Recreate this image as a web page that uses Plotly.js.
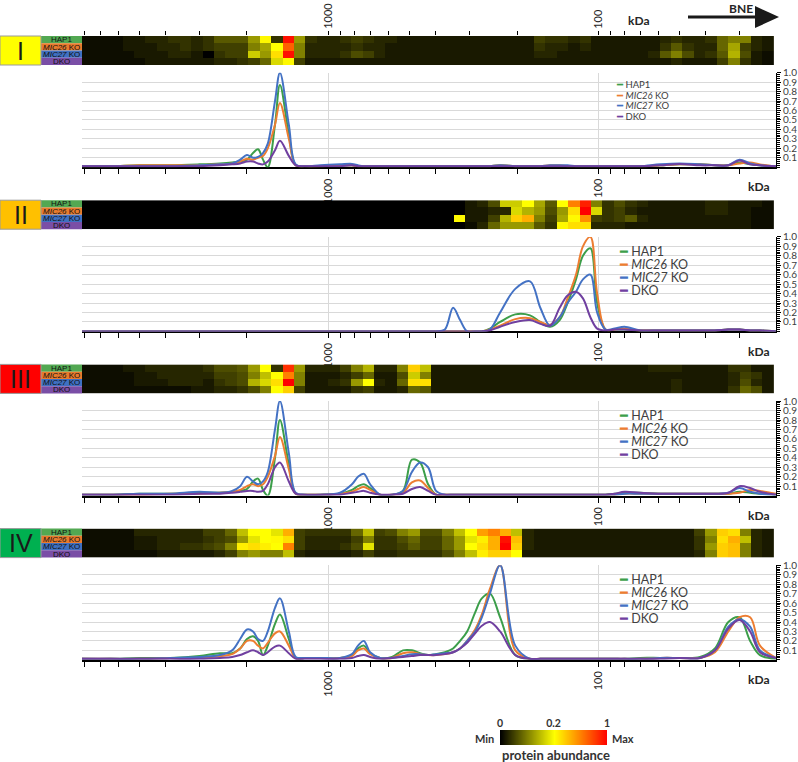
<!DOCTYPE html>
<html>
<head>
<meta charset="utf-8">
<script src="https://cdn.plot.ly/plotly-3.0.1.min.js"></script>
<style>
  body { margin: 0; background: #fff; }
  #chart { width: 798px; height: 762px; }
</style>
</head>
<body>
<div id="chart"></div>
<script>
// molecular weight of every profile point (kDa)
var kda = [8200, 6400, 5000, 3850, 3000, 2520, 2270, 2120, 2000, 1900,
           1820, 1745, 1675, 1575, 1510, 1400, 1320, 1220, 1070, 905,
           817, 776, 738, 700, 643, 581, 529, 490, 457, 427,
           399, 370, 345, 325, 306, 286, 270, 252, 231, 203,
           179, 164, 151, 139, 130, 121, 114, 107, 101, 94,
           87, 80, 70, 59, 50, 42, 37, 33, 30, 27.4,
           25.2, 22];

// kDa ticks
var majorTicks = [1000, 100];
var majorText = ['1000', '100'];
var minorTicks = [8000, 7000, 6000, 5000, 4000, 3000, 2000,
                  900, 800, 700, 600, 500, 400, 300, 200,
                  90, 80, 70, 60, 50, 40, 30];

var names = ['HAP1', '<i>MIC26</i> KO', '<i>MIC27</i> KO', 'DKO'];
var colors = ['#3c9e4a', '#ed7d31', '#4472c4', '#7040a0'];
var labelBg = ['#52a852', '#e87a2c', '#3f70c2', '#7a4ea6'];
var numerals = ['I', 'II', 'III', 'IV'];
var numeralBg = ['#ffff00', '#ffc000', '#ff0000', '#00b050'];

// ---------- heatmaps (61 gel slices, 0 = min, 1 = max) ----------
var hmI_hap1 = [.01,.01,.01,.01,.02,.02,.03,.03,.04,.04,
                .03,.04,.07,.07,.07,.12,.22,.04,.95,.12,
                .04,.03,.03,.04,.05,.04,.03,.03,.02,.02,
                .02,.02,.02,.02,.02,.02,.02,.02,.02,.02,
                .05,.04,.04,.03,.04,.02,.02,.02,.02,.02,
                .02,.03,.04,.03,.03,.04,.08,.1,.1,.03,
                .02];
var hmI_mic26 = [.01,.01,.01,.01,.02,.02,.02,.03,.03,.04,
                 .03,.04,.05,.05,.05,.1,.13,.2,.7,.1,
                 .03,.03,.03,.03,.04,.03,.03,.02,.02,.02,
                 .02,.02,.02,.02,.02,.02,.02,.02,.02,.02,
                 .04,.03,.03,.02,.03,.02,.02,.02,.02,.02,
                 .02,.04,.07,.04,.03,.03,.08,.13,.05,.03,
                 .02];
var hmI_mic27 = [.01,.01,.01,.01,.01,.02,.02,.02,.03,.03,
                 .02,0,.04,.05,.05,.16,.12,.3,.95,.1,
                 .03,.03,.03,.04,.06,.05,.03,.02,.02,.02,
                 .02,.02,.02,.02,.02,.02,.02,.02,.02,.02,
                 .03,.03,.02,.02,.02,.02,.02,.02,.02,.02,
                 .03,.07,.1,.06,.03,.04,.07,.14,.06,.02,
                 .01];
var hmI_dko = [.01,.01,.01,.01,.01,.01,.02,.02,.02,.02,
               .02,.02,.03,.03,.04,.05,.08,.17,.22,.05,
               .02,.02,.02,.02,.02,.02,.02,.02,.02,.02,
               .02,.02,.02,.02,.02,.02,.02,.02,.02,.02,
               .02,.02,.02,.02,.02,.02,.02,.02,.02,.02,
               .02,.02,.03,.02,.02,.02,.05,.1,.04,.02,
               .01];

var hmII_hap1 = [0,0,0,0,0,0,0,0,0,0,
                 0,0,0,0,0,0,0,0,0,0,
                 0,0,0,0,0,0,0,0,0,0,
                 0,0,0,0,.02,.03,.06,.16,.16,.2,
                 .13,.07,.2,.6,.9,.1,.04,.06,.04,.03,
                 .02,.02,.02,.02,.02,.03,.03,.02,.02,.02,
                 .01];
var hmII_mic26 = [0,0,0,0,0,0,0,0,0,0,
                  0,0,0,0,0,0,0,0,0,0,
                  0,0,0,0,0,0,0,0,0,0,
                  0,0,0,0,.02,.02,.03,.03,.17,.14,
                  .12,.06,.12,.3,1,.17,.04,.05,.03,.02,
                  .02,.02,.02,.02,.02,.03,.03,.02,.02,.01,
                  .01];
var hmII_mic27 = [0,0,0,0,0,0,0,0,0,0,
                  0,0,0,0,0,0,0,0,0,0,
                  0,0,0,0,0,0,0,0,0,0,
                  0,0,0,.22,.02,.02,.05,.14,.35,.45,
                  .1,.05,.13,.22,.55,.05,.04,.05,.07,.03,
                  .02,.02,.02,.02,.02,.02,.02,.02,.02,.01,
                  .01];
var hmII_dko = [0,0,0,0,0,0,0,0,0,0,
                0,0,0,0,0,0,0,0,0,0,
                0,0,0,0,0,0,0,0,0,0,
                0,0,0,0,.01,.03,.08,.12,.12,.12,
                .07,.04,.22,.3,.3,.03,.03,.03,.02,.02,
                .02,.02,.02,.02,.02,.02,.02,.02,.02,.01,
                .01];

var hmIII_hap1 = [.01,.01,.01,.01,.02,.02,.03,.03,.03,.03,
                  .03,.04,.06,.06,.07,.12,.2,.04,.85,.12,
                  .03,.03,.03,.05,.1,.14,.03,.03,.1,.35,
                  .15,.02,.02,.02,.02,.02,.02,.02,.02,.02,
                  .02,.02,.02,.02,.02,.02,.02,.02,.02,.02,
                  .03,.03,.03,.02,.02,.02,.02,.04,.04,.02,
                  .02];
var hmIII_mic26 = [.01,.01,.01,.01,.01,.02,.02,.03,.03,.03,
                   .03,.03,.05,.05,.06,.1,.15,.2,.6,.1,
                   .02,.02,.02,.03,.05,.08,.02,.02,.06,.16,
                   .1,.02,.02,.02,.02,.02,.02,.02,.02,.02,
                   .02,.02,.02,.02,.02,.02,.02,.02,.02,.02,
                   .02,.02,.02,.02,.02,.02,.02,.03,.05,.04,
                   .02];
var hmIII_mic27 = [.01,.01,.01,.01,.01,.02,.02,.02,.03,.03,
                   .03,.02,.04,.05,.06,.14,.17,.3,1,.1,
                   .02,.02,.03,.04,.12,.2,.03,.02,.08,.3,
                   .3,.02,.02,.02,.02,.02,.02,.02,.02,.02,
                   .02,.02,.02,.02,.02,.02,.02,.02,.02,.02,
                   .02,.02,.03,.02,.02,.02,.02,.03,.06,.03,
                   .02];
var hmIII_dko = [.01,.01,.01,.01,.01,.01,.01,.01,.01,.01,
                 .02,.02,.03,.03,.04,.06,.1,.2,.35,.05,
                 .02,.02,.02,.02,.04,.05,.02,.02,.03,.08,
                 .07,.02,.02,.02,.02,.02,.02,.02,.02,.02,
                 .02,.02,.02,.02,.02,.02,.02,.02,.02,.02,
                 .02,.02,.03,.02,.02,.02,.02,.04,.08,.06,
                 .02];

var hmIV_hap1 = [.01,.01,.01,.01,.01,.03,.03,.03,.03,.03,
                 .03,.05,.05,.08,.15,.2,.2,.18,.45,.05,
                 .04,.04,.04,.04,.08,.15,.05,.06,.1,.12,
                 .06,.06,.1,.15,.2,.5,.6,.45,.15,.03,
                 .02,.02,.02,.02,.02,.02,.02,.02,.02,.02,
                 .02,.02,.02,.02,.05,.12,.35,.3,.1,.03,
                 .02];
var hmIV_mic26 = [.01,.01,.01,.01,.01,.02,.02,.03,.03,.03,
                  .03,.04,.05,.06,.12,.18,.2,.22,.3,.05,
                  .03,.03,.03,.03,.05,.1,.04,.04,.06,.08,
                  .05,.05,.08,.12,.18,.25,.45,.95,.4,.03,
                  .02,.02,.02,.02,.02,.02,.02,.02,.02,.02,
                  .02,.02,.02,.02,.04,.1,.3,.45,.15,.03,
                  .02];
var hmIV_mic27 = [.01,.01,.01,.01,.01,.02,.02,.03,.03,.04,
                  .04,.05,.06,.1,.25,.3,.25,.2,.6,.05,
                  .03,.03,.03,.04,.06,.18,.04,.04,.05,.07,
                  .05,.05,.08,.12,.2,.3,.45,1,.35,.03,
                  .02,.02,.02,.02,.02,.02,.02,.02,.02,.02,
                  .02,.02,.02,.02,.04,.12,.35,.4,.1,.03,
                  .02];
var hmIV_dko = [.01,.01,.01,.01,.01,.01,.01,.02,.02,.02,
                .02,.02,.03,.05,.1,.12,.1,.1,.15,.03,
                .02,.02,.02,.02,.03,.05,.03,.03,.04,.04,
                .04,.04,.06,.1,.15,.25,.35,.35,.2,.02,
                .02,.02,.02,.02,.02,.02,.02,.02,.02,.02,
                .02,.02,.02,.02,.03,.1,.35,.4,.1,.03,
                .02];

// ---------- abundance profiles (y at every kda point) ----------
var lnI_hap1 = [.01,.01,.02,.02,.03,.04,.05,.06,.08,.15,
                .19,.08,0,.45,.87,.35,.02,.01,.01,.02,
                .02,.01,.01,.01,.01,.01,.01,.01,.01,.01,
                .01,.01,.01,.01,.01,.01,.01,.01,.02,.01,
                .01,.01,.01,.01,.01,.01,.01,.01,.01,.01,
                .01,.01,.01,.02,.03,.03,.02,.02,.05,.03,
                .02,.01];
var lnI_mic26 = [.01,.01,.02,.02,.02,.03,.04,.06,.09,.08,
                 .1,.12,.2,.45,.68,.3,.02,.01,.01,.02,
                 .02,.01,.01,.01,.01,.01,.01,.01,.01,.01,
                 .01,.01,.01,.01,.01,.01,.01,.01,.02,.01,
                 .01,.01,.02,.02,.01,.01,.01,.01,.01,.01,
                 .01,.01,.01,.02,.03,.03,.02,.02,.04,.05,
                 .03,.01];
var lnI_mic27 = [.01,.01,.01,.01,.02,.03,.04,.08,.13,.1,
                 .11,.15,.25,.7,1,.45,.03,.01,.02,.03,
                 .035,.02,.01,.01,.01,.01,.01,.01,.01,.01,
                 .01,.01,.01,.01,.01,.01,.01,.01,.02,.01,
                 .01,.01,.02,.02,.02,.01,.01,.01,.01,.01,
                 .01,.01,.01,.03,.04,.03,.02,.02,.08,.04,
                 .02,.01];
var lnI_dko = [.01,.01,.01,.01,.01,.02,.03,.04,.06,.06,
               .04,.03,.06,.18,.28,.12,.02,.01,.01,.01,
               .02,.01,.01,.01,.01,.01,.01,.01,.01,.01,
               .01,.01,.01,.01,.01,.01,.01,.01,.01,.01,
               .01,.01,.01,.01,.01,.01,.01,.01,.01,.01,
               .01,.01,.01,.02,.035,.02,.02,.02,.07,.03,
               .02,.01];

var lnII_hap1 = [0,0,0,0,0,0,0,0,0,0,
                 0,0,0,0,0,0,0,0,0,0,
                 0,0,0,0,0,0,0,0,0,0,
                 0,0,0,0,0,0,0,.03,.1,.18,
                 .17,.1,.05,.12,.3,.55,.8,.88,.3,.02,
                 .02,.02,.01,.01,.01,.01,.01,.02,.02,.01,
                 .01,0];
var lnII_mic26 = [0,0,0,0,0,0,0,0,0,0,
                  0,0,0,0,0,0,0,0,0,0,
                  0,0,0,0,0,0,0,0,0,0,
                  0,0,0,0,0,0,0,.02,.06,.13,
                  .14,.1,.07,.15,.35,.6,.9,1,.4,.02,
                  .02,.03,.01,.01,.01,.01,.01,.02,.02,.01,
                  .01,0];
var lnII_mic27 = [0,0,0,0,0,0,0,0,0,0,
                  0,0,0,0,0,0,0,0,0,0,
                  0,0,0,0,0,0,0,0,0,0,
                  0,.02,.25,.12,0,0,0,.02,.2,.45,
                  .53,.25,.06,.15,.3,.42,.55,.6,.2,.02,
                  .03,.05,.01,.01,.01,.01,.01,.02,.02,.01,
                  .01,0];
var lnII_dko = [0,0,0,0,0,0,0,0,0,0,
                0,0,0,0,0,0,0,0,0,0,
                0,0,0,0,0,0,0,0,0,0,
                0,0,0,0,0,0,0,.01,.05,.1,
                .12,.08,.06,.25,.38,.42,.35,.15,.03,.01,
                .02,.02,.01,.01,.01,.01,.01,.02,.02,.01,
                .01,0];

var lnIII_hap1 = [.01,.01,.02,.02,.03,.03,.04,.05,.07,.15,
                  .18,.06,0,.4,.8,.33,.02,.01,.01,.02,
                  .06,.1,.12,.08,.01,.01,.05,.38,.35,.12,
                  .01,.01,.01,.01,.01,.01,.01,.01,.01,.01,
                  .01,.01,.01,.01,.01,.01,.01,.01,.01,.01,
                  .02,.03,.03,.02,.02,.02,.02,.02,.04,.03,
                  .02,.01];
var lnIII_mic26 = [.01,.01,.01,.02,.02,.03,.04,.06,.1,.12,
                   .1,.12,.2,.42,.62,.28,.02,.01,.01,.02,
                   .04,.07,.09,.06,.01,.01,.03,.14,.16,.08,
                   .01,.01,.01,.01,.01,.01,.01,.01,.01,.01,
                   .01,.01,.01,.01,.01,.01,.01,.01,.01,.01,
                   .01,.02,.02,.02,.02,.02,.02,.02,.03,.06,
                   .05,.02];
var lnIII_mic27 = [.01,.01,.02,.02,.04,.03,.05,.1,.2,.15,
                   .12,.15,.25,.7,1,.45,.03,.01,.01,.03,
                   .12,.2,.23,.12,.01,.01,.05,.25,.35,.3,
                   .05,.01,.01,.01,.01,.01,.01,.01,.01,.01,
                   .01,.01,.01,.01,.01,.01,.01,.01,.01,.01,
                   .01,.02,.02,.02,.02,.02,.02,.03,.08,.04,
                   .02,.01];
var lnIII_dko = [.01,.01,.01,.01,.02,.02,.03,.04,.05,.05,
                 .04,.05,.12,.3,.35,.15,.02,.01,.01,.01,
                 .03,.04,.05,.03,.01,.01,.02,.07,.09,.05,
                 .01,.01,.01,.01,.01,.01,.01,.01,.01,.01,
                 .01,.01,.01,.01,.01,.01,.01,.01,.01,.01,
                 .02,.04,.03,.02,.02,.02,.02,.03,.1,.08,
                 .04,.01];

var lnIV_hap1 = [.01,.01,.02,.02,.04,.07,.07,.12,.22,.25,
                 .2,.05,.15,.38,.48,.22,.02,.02,.02,.02,
                 .05,.12,.15,.07,.02,.03,.1,.1,.07,.05,
                 .06,.08,.12,.2,.3,.5,.65,.7,.45,.05,
                 .01,.01,.01,.01,.01,.01,.01,.01,.01,.01,
                 .01,.01,.02,.02,.02,.03,.12,.4,.45,.2,
                 .05,.01];
var lnIV_mic26 = [.01,.01,.01,.02,.02,.04,.06,.12,.2,.2,
                  .15,.12,.18,.28,.3,.15,.02,.02,.02,.02,
                  .04,.1,.12,.06,.02,.02,.07,.08,.06,.05,
                  .05,.06,.08,.12,.2,.32,.48,.75,1,.1,
                  .01,.01,.01,.01,.01,.01,.01,.01,.01,.01,
                  .01,.01,.01,.02,.02,.02,.08,.3,.45,.45,
                  .15,.02];
var lnIV_mic27 = [.01,.01,.01,.02,.03,.05,.1,.22,.32,.3,
                  .22,.2,.3,.55,.65,.3,.03,.02,.02,.02,
                  .06,.15,.2,.08,.02,.02,.04,.06,.06,.05,
                  .06,.07,.08,.12,.2,.3,.45,.7,1,.15,
                  .01,.01,.01,.01,.01,.01,.01,.01,.01,.01,
                  .01,.01,.01,.02,.02,.02,.1,.35,.43,.35,
                  .1,.02];
var lnIV_dko = [.01,.01,.01,.01,.01,.02,.03,.05,.08,.1,
                .08,.05,.08,.14,.15,.07,.01,.01,.01,.01,
                .02,.04,.05,.03,.01,.02,.03,.04,.05,.05,
                .05,.06,.08,.12,.18,.28,.36,.4,.3,.05,
                .01,.01,.01,.01,.01,.01,.01,.01,.01,.01,
                .01,.01,.01,.01,.02,.02,.1,.33,.42,.3,
                .08,.02];

// colour key
var keyValues = [0, 0.2, 1];
var keyText = ['<b>0</b>', '<b>0.2</b>', '<b>1</b>'];

var heatRows = [
  [hmI_hap1, hmI_mic26, hmI_mic27, hmI_dko],
  [hmII_hap1, hmII_mic26, hmII_mic27, hmII_dko],
  [hmIII_hap1, hmIII_mic26, hmIII_mic27, hmIII_dko],
  [hmIV_hap1, hmIV_mic26, hmIV_mic27, hmIV_dko]
];
var profiles = [
  [lnI_hap1, lnI_mic26, lnI_mic27, lnI_dko],
  [lnII_hap1, lnII_mic26, lnII_mic27, lnII_dko],
  [lnIII_hap1, lnIII_mic26, lnIII_mic27, lnIII_dko],
  [lnIV_hap1, lnIV_mic26, lnIV_mic27, lnIV_dko]
];

var scale = [[0, '#000000'], [0.2, '#ffff00'], [1, '#ff0000']];

// pixel helpers for the layout
var W = 798, H = 762;
function px(v) { return v / W; }
function py(v) { return 1 - v / H; }

var FONT = 'Lato, "Liberation Sans", sans-serif';
var xDom = [px(82), px(776)];
var logRange = [3.912, 1.342];
var panelTop = [36, 200.2, 364.4, 528.6];

var data = [];
var layout = {
  width: W, height: H,
  margin: {l: 0, r: 0, t: 0, b: 0},
  paper_bgcolor: '#fff', plot_bgcolor: '#fff',
  showlegend: false,
  font: {family: FONT, color: '#262626'},
  shapes: [], annotations: []
};

function addPanel(k) {
  var t0 = panelTop[k];
  var hx = 'x' + (2 * k + 1), hy = 'y' + (2 * k + 1);
  var lx = 'x' + (2 * k + 2), ly = 'y' + (2 * k + 2);

  data.push({
    type: 'heatmap', z: heatRows[k], xaxis: hx, yaxis: hy,
    colorscale: scale, zmin: 0, zmax: 1, showscale: false, hoverinfo: 'skip'
  });
  for (var s = 0; s < 4; s++) {
    data.push({
      type: 'scatter', mode: 'lines', x: kda, y: profiles[k][s],
      xaxis: lx, yaxis: ly, hoverinfo: 'skip',
      line: {color: colors[s], width: 2, shape: 'spline', smoothing: 1}
    });
  }

  layout['xaxis' + (2 * k + 1)] = {
    domain: xDom, anchor: hy, range: [-0.05, 60.66],
    visible: false, fixedrange: true
  };
  layout['yaxis' + (2 * k + 1)] = {
    domain: [py(t0 + 29), py(t0)], anchor: hx, range: [3.5, -0.5],
    visible: false, fixedrange: true
  };
  layout['xaxis' + (2 * k + 2)] = {
    domain: xDom, anchor: ly, type: 'log', range: logRange,
    tickmode: 'array', tickvals: majorTicks, ticktext: majorText,
    tickangle: -90, tickfont: {size: 11, color: '#262626'},
    ticks: 'outside', ticklen: 5, tickcolor: '#000', tickwidth: 1,
    showgrid: true, gridcolor: '#d9d9d9', gridwidth: 1,
    minor: {tickmode: 'array', tickvals: minorTicks, ticks: 'outside',
            ticklen: 5, tickcolor: '#000', tickwidth: 1, showgrid: false},
    showline: true, linecolor: '#000', linewidth: 2,
    zeroline: false, layer: 'below traces', fixedrange: true
  };
  layout['yaxis' + (2 * k + 2)] = {
    domain: [py(t0 + 131.2), py(t0 + 36.7)], anchor: lx, side: 'right',
    range: [0, 1],
    tickmode: 'array', tickvals: [0.1, 0.2, 0.3, 0.4, 0.5, 0.6, 0.7, 0.8, 0.9, 1.0],
    tickformat: '.1f', tickfont: {size: 10, color: '#404040'},
    ticks: 'outside', ticklen: 4, tickcolor: '#000',
    minor: {dtick: 0.02, tick0: 0, ticks: 'outside', ticklen: 3, tickcolor: '#000', showgrid: false},
    showgrid: true, gridcolor: '#d9d9d9', gridwidth: 1,
    showline: true, linecolor: '#000', linewidth: 1,
    zeroline: false, fixedrange: true
  };

  // left label block
  layout.shapes.push({
    type: 'rect', xref: 'paper', yref: 'paper',
    x0: 0, x1: px(41), y0: py(t0 + 29), y1: py(t0),
    fillcolor: numeralBg[k], line: {color: '#9a9a9a', width: 1}
  });
  layout.annotations.push({
    xref: 'paper', yref: 'paper', x: px(20.5), y: py(t0 + 14.5),
    text: numerals[k], showarrow: false, xanchor: 'center', yanchor: 'middle',
    font: {family: '"Liberation Sans", Arial, sans-serif', size: 25, color: '#1a1a1a'}
  });
  for (var r = 0; r < 4; r++) {
    layout.shapes.push({
      type: 'rect', xref: 'paper', yref: 'paper', layer: 'below',
      x0: px(41), x1: px(82), y0: py(t0 + 7.25 * (r + 1)), y1: py(t0 + 7.25 * r),
      fillcolor: labelBg[r], line: {width: 0}
    });
    layout.annotations.push({
      xref: 'paper', yref: 'paper', x: px(61.5), y: py(t0 + 7.25 * r + 3.8),
      text: names[r], showarrow: false, xanchor: 'center', yanchor: 'middle',
      font: {family: '"Liberation Sans", Arial, sans-serif', size: 8, color: '#111'}
    });
  }

  // legend
  var small = (k === 0);
  for (var s2 = 0; s2 < 4; s2++) {
    layout.annotations.push({
      xref: 'paper', yref: 'paper',
      x: px(small ? 614 : 617),
      y: py(small ? (t0 + 49 + 10.4 * s2) : (t0 + 51 + 13 * s2)),
      text: '<span style="color:' + colors[s2] + '">&#9473;</span> ' + names[s2],
      showarrow: false, xanchor: 'left', yanchor: 'middle',
      font: {size: small ? 9.5 : 12.5, color: '#404040'}
    });
  }

  // kDa under each profile
  layout.annotations.push({
    xref: 'paper', yref: 'paper', x: px(758), y: py(t0 + 151),
    text: '<b>kDa</b>', showarrow: false, xanchor: 'center', yanchor: 'middle',
    font: {size: 12, color: '#262626'}
  });
}

for (var p = 0; p < 4; p++) addPanel(p);

// kDa ticks above the first gel strip
data.push({type: 'scatter', x: [], y: [], xaxis: 'x9', yaxis: 'y1', hoverinfo: 'skip'});
layout.xaxis9 = {
  type: 'log', range: logRange, overlaying: 'x', anchor: 'y', side: 'top',
  tickmode: 'array', tickvals: majorTicks, ticktext: majorText,
  tickangle: -90, tickfont: {size: 11, color: '#262626'},
  ticks: 'outside', ticklen: 4, tickcolor: '#000',
  minor: {tickmode: 'array', tickvals: minorTicks, ticks: 'outside',
          ticklen: 4, tickcolor: '#000', showgrid: false},
  showgrid: false, zeroline: false, showline: false, fixedrange: true
};

// colour key
data.push({
  type: 'heatmap', z: [keyValues], x: [0, 1, 2], xaxis: 'x10', yaxis: 'y10',
  colorscale: scale, zmin: 0, zmax: 1, zsmooth: 'best', showscale: false, hoverinfo: 'skip'
});
layout.xaxis10 = {
  domain: [px(500), px(607)], anchor: 'y10', range: [0, 2], side: 'top',
  tickmode: 'array', tickvals: [0, 1, 2], ticktext: keyText,
  ticks: '', tickfont: {size: 10.5, color: '#333'}, showgrid: false, zeroline: false,
  showline: false, fixedrange: true
};
layout.yaxis10 = {
  domain: [py(745), py(730)], anchor: 'x10', range: [-0.5, 0.5],
  visible: false, fixedrange: true
};
layout.annotations.push(
  {xref: 'paper', yref: 'paper', x: px(496), y: py(738), text: '<b>Min</b>',
   showarrow: false, xanchor: 'right', yanchor: 'middle', font: {size: 11, color: '#333'}},
  {xref: 'paper', yref: 'paper', x: px(610), y: py(738), text: '<b>Max</b>',
   showarrow: false, xanchor: 'left', yanchor: 'middle', font: {size: 11, color: '#333'}},
  {xref: 'paper', yref: 'paper', x: px(556), y: py(755), text: '<b>protein abundance</b>',
   showarrow: false, xanchor: 'center', yanchor: 'middle', font: {size: 13, color: '#333'}},
  {xref: 'paper', yref: 'paper', x: px(638), y: py(21), text: '<b>kDa</b>',
   showarrow: false, xanchor: 'center', yanchor: 'middle', font: {size: 12, color: '#262626'}},
  {xref: 'paper', yref: 'paper', x: px(741), y: py(8), text: '<b>BNE</b>',
   showarrow: false, xanchor: 'center', yanchor: 'middle', font: {size: 12, color: '#262626'}}
);

// BNE arrow
layout.shapes.push(
  {type: 'line', xref: 'paper', yref: 'paper', x0: px(688), x1: px(758), y0: py(17), y1: py(17),
   line: {color: '#1a1a1a', width: 3}},
  {type: 'path', xref: 'paper', yref: 'paper',
   path: 'M ' + px(755) + ' ' + py(6) + ' L ' + px(779) + ' ' + py(17) + ' L ' + px(755) + ' ' + py(28) + ' Z',
   fillcolor: '#1a1a1a', line: {width: 0}}
);

Plotly.newPlot('chart', data, layout, {displayModeBar: false, staticPlot: true});
</script>
</body>
</html>
